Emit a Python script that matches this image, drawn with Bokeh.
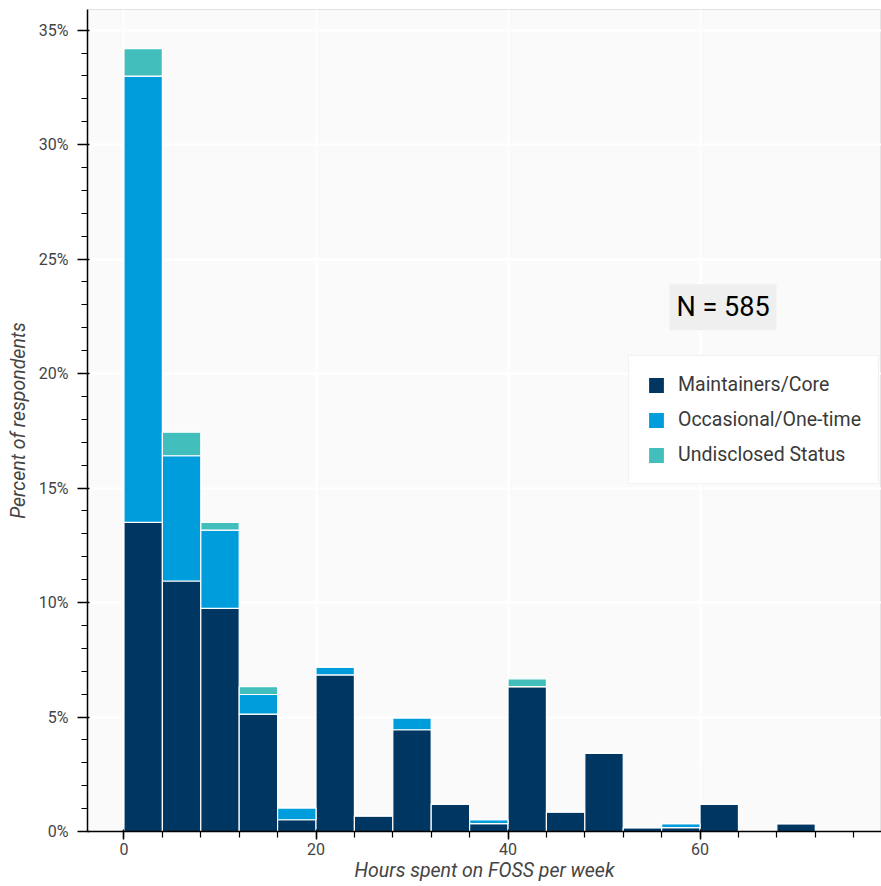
from bokeh.plotting import figure
from bokeh.models import (ColumnDataSource, SingleIntervalTicker, PrintfTickFormatter,
                          Label, Range1d, Legend)
from bokeh.embed import file_html
from bokeh.resources import INLINE

# ---- data (respondent counts per 4-hour bin) ----
N_TOTAL = 585
bin_start = [0, 4, 8, 12, 16, 20, 24, 28, 32, 36, 40, 44, 48, 52, 56, 60, 64, 68, 72]
maintainers = [79, 64, 57, 30, 3, 40, 4, 26, 7, 2, 37, 5, 20, 1, 1, 7, 0, 2, 0]
occasional = [114, 32, 20, 5, 3, 2, 0, 3, 0, 1, 0, 0, 0, 0, 1, 0, 0, 0, 0]
undisclosed = [7, 6, 2, 2, 0, 0, 0, 0, 0, 0, 2, 0, 0, 0, 0, 0, 0, 0, 0]
series_names = ["Maintainers/Core", "Occasional/One-time", "Undisclosed Status"]
colors = ["#003662", "#009ddc", "#42bfbd"]
BIN_W = 4

src = ColumnDataSource(dict(
    center=[b + BIN_W / 2 for b in bin_start],
    maint=[v / N_TOTAL * 100 for v in maintainers],
    occ=[v / N_TOTAL * 100 for v in occasional],
    und=[v / N_TOTAL * 100 for v in undisclosed],
))

FONT = "Roboto"

p = figure(width=881, height=886, output_backend="svg", toolbar_location=None,
           x_range=Range1d(-3.8, 78.9), y_range=Range1d(0, 35.9),
           min_border_left=87, min_border_right=0, min_border_top=9, min_border_bottom=55)

p.background_fill_color = "#fafafa"
p.border_fill_color = "white"
p.outline_line_color = "#e3e3e3"

renderers = p.vbar_stack(["maint", "occ", "und"], x="center", width=BIN_W, source=src,
                         fill_color=colors, line_color="white", line_width=1.2)

legend = Legend(items=[(n, [r]) for n, r in zip(series_names, renderers)],
                location=(541, 347), padding=17, spacing=12, glyph_width=20, glyph_height=20,
                label_height=20, label_standoff=12, label_text_font=FONT,
                label_text_font_size="19.5px", label_text_color="#3a3a3a",
                border_line_color="#e6e6e6", background_fill_color="white",
                background_fill_alpha=1.0, margin=0)
p.add_layout(legend, "center")

# grids
p.xgrid.grid_line_color = "white"
p.ygrid.grid_line_color = "white"
p.xgrid.grid_line_width = 2
p.ygrid.grid_line_width = 2

# axes
p.xaxis.ticker = SingleIntervalTicker(interval=20, num_minor_ticks=5)
p.yaxis.ticker = SingleIntervalTicker(interval=5, num_minor_ticks=5)
p.yaxis.formatter = PrintfTickFormatter(format="%d%%")
for ax in (p.xaxis[0], p.yaxis[0]):
    ax.axis_line_color = "black"
    ax.axis_line_width = 1.5
    ax.major_tick_line_color = "black"
    ax.minor_tick_line_color = "black"
    ax.major_tick_line_width = 1.5
    ax.minor_tick_line_width = 1.2
    ax.major_label_text_font = FONT
    ax.major_label_text_font_size = "16px"
    ax.major_label_text_color = "#444444"
    ax.axis_label_text_font = FONT
    ax.axis_label_text_font_size = "19.5px"
    ax.axis_label_text_font_style = "italic"
    ax.axis_label_text_color = "#444444"
p.yaxis.major_tick_out = 10
p.yaxis.major_tick_in = 2
p.yaxis.minor_tick_out = 6
p.yaxis.minor_tick_in = 0
p.xaxis.major_tick_out = 8
p.xaxis.major_tick_in = 2
p.xaxis.minor_tick_out = 6
p.xaxis.minor_tick_in = 0
p.yaxis.major_label_standoff = 9
p.xaxis.major_label_standoff = 3
p.xaxis.axis_label = "Hours spent on FOSS per week"
p.yaxis.axis_label = "Percent of respondents"
p.xaxis.axis_label_standoff = 1
p.yaxis.axis_label_standoff = 6

n_label = Label(x=62.4, y=22.9, text=f"N = {N_TOTAL}", text_align="center",
                text_baseline="middle", text_font=FONT, text_font_size="27px",
                text_color="black", background_fill_color="#efefef",
                background_fill_alpha=1.0, padding=7)
p.add_layout(n_label)

open("out.html", "w").write(file_html(p, INLINE))
